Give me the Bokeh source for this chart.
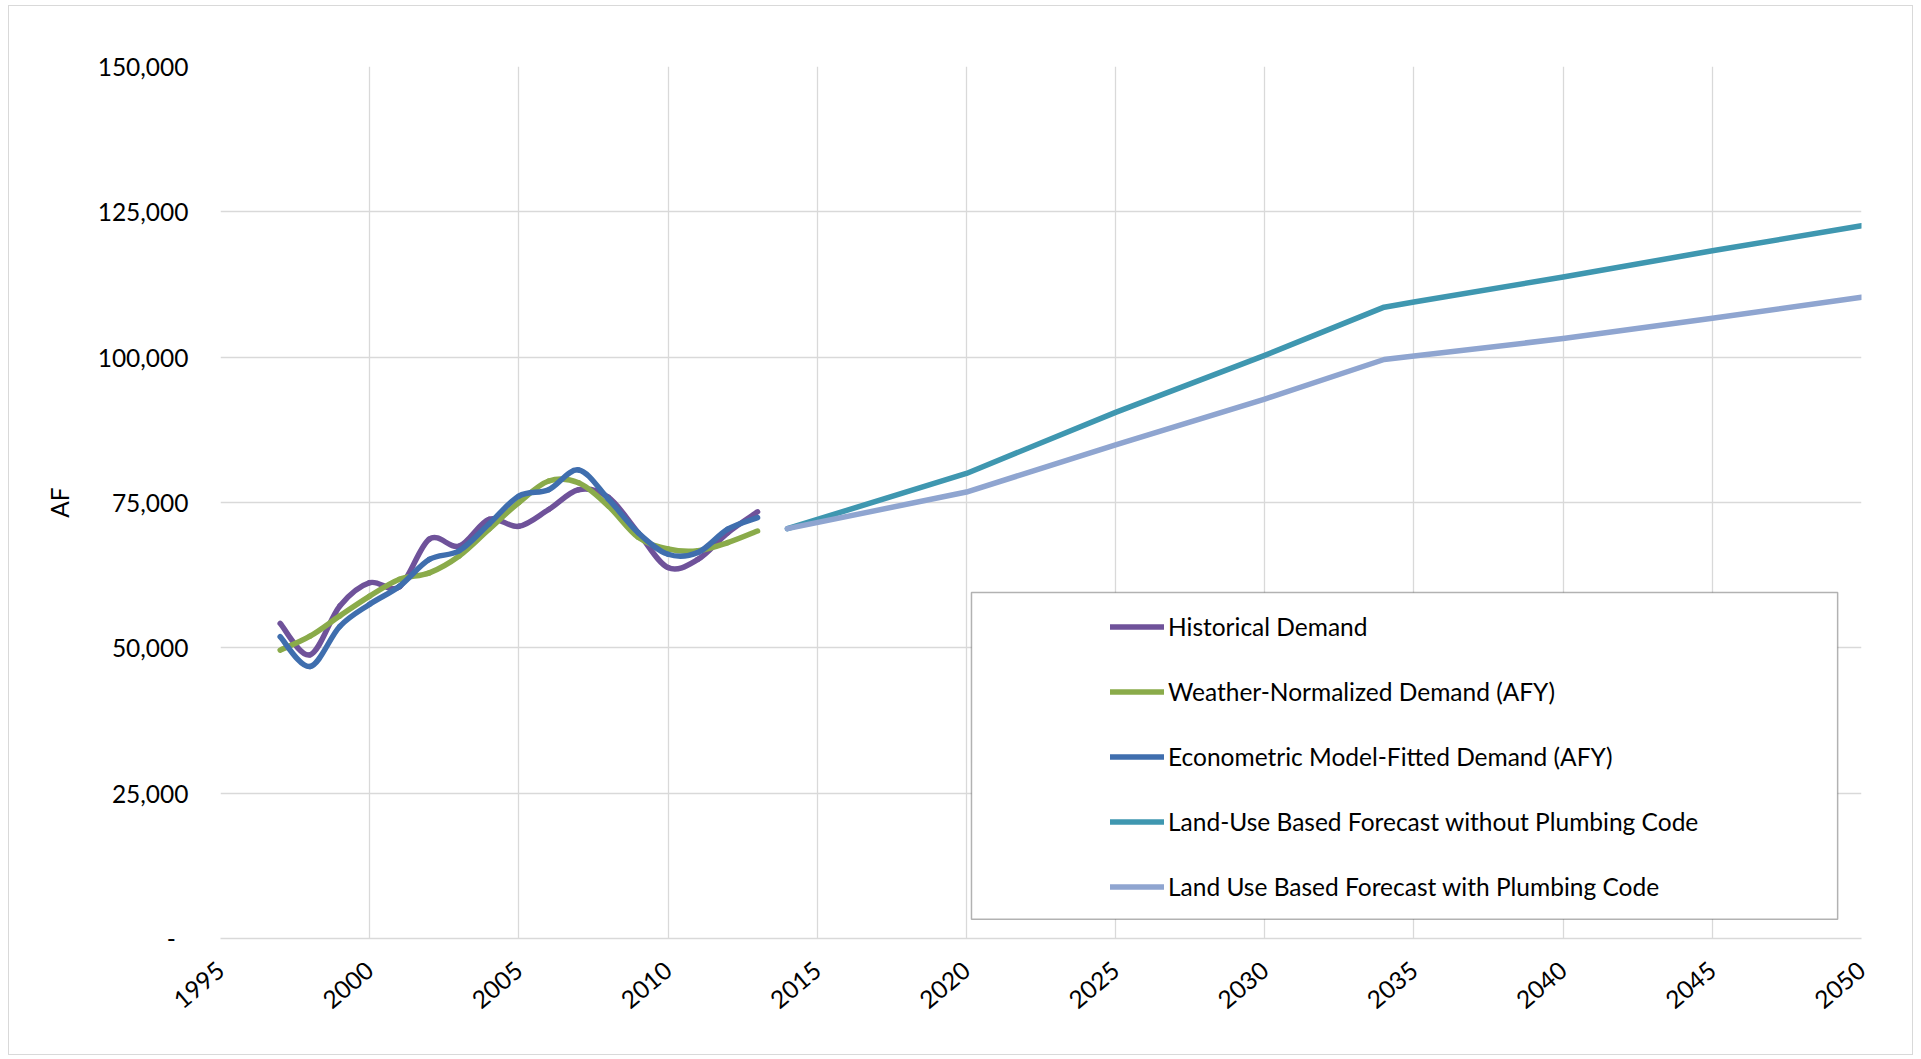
import numpy as np
from bokeh.plotting import figure
from bokeh.models import FixedTicker, Legend, LegendItem, BoxAnnotation
from bokeh.embed import file_html
from bokeh.resources import INLINE

# --- data (acre-feet per year) ---
hist_years = list(range(1997, 2014))
historical = [54200, 48800, 57200, 61200, 60500, 68700, 67500, 72100, 70900,
              73800, 77200, 75900, 69800, 63800, 65200, 69800, 73400]
weather_normalized = [49600, 52000, 55500, 58900, 61800, 62900, 65800, 70400, 75000,
                      78700, 78400, 74400, 69000, 67000, 66700, 68100, 70100]
econometric = [51900, 46800, 53700, 57500, 60600, 65200, 66700, 71300, 76100,
               77200, 80600, 75600, 69800, 66100, 66400, 70400, 72400]

forecast_years = [2014, 2020, 2025, 2030, 2034, 2035, 2040, 2045, 2050]
without_plumbing = [70500, 80000, 90500, 100300, 108600, 109500, 113800, 118300, 122600]
with_plumbing = [70500, 76800, 84900, 92800, 99600, 100200, 103200, 106700, 110300]

x_ticks = list(range(1995, 2051, 5))
y_ticks = [0, 25000, 50000, 75000, 100000, 125000, 150000]
y_tick_labels = ["-\u00a0\u00a0", "25,000", "50,000", "75,000", "100,000", "125,000", "150,000"]

names = ["Historical Demand",
         "Weather-Normalized Demand (AFY)",
         "Econometric Model-Fitted Demand (AFY)",
         "Land-Use Based Forecast without Plumbing Code",
         "Land Use Based Forecast with Plumbing Code"]
colors = ["#6F529A", "#8AAB4A", "#3F6EAE", "#3F97B0", "#8FA5D0"]

FONT = "Lato"
FONT_SIZE = "24.5px"


def smooth(xs, ys):
    # Excel-style smoothed line: cubic bezier per segment (Catmull-Rom control points)
    x = np.asarray(xs, dtype=float)
    y = np.asarray(ys, dtype=float)
    n = len(x)
    seg = dict(x0=[], y0=[], x1=[], y1=[], cx0=[], cy0=[], cx1=[], cy1=[])
    for i in range(n - 1):
        a = max(i - 1, 0)
        b = min(i + 2, n - 1)
        seg["x0"].append(x[i])
        seg["y0"].append(y[i])
        seg["x1"].append(x[i + 1])
        seg["y1"].append(y[i + 1])
        seg["cx0"].append(x[i] + (x[i + 1] - x[a]) / 6)
        seg["cy0"].append(y[i] + (y[i + 1] - y[a]) / 6)
        seg["cx1"].append(x[i + 1] - (x[b] - x[i]) / 6)
        seg["cy1"].append(y[i + 1] - (y[b] - y[i]) / 6)
    return seg


p = figure(width=1905, height=1050,
           x_range=(1995, 2050), y_range=(0, 150000),
           output_backend="svg", toolbar_location=None,
           min_border_left=211, min_border_right=53,
           min_border_top=60, min_border_bottom=118)
p.styles = {"margin-left": "8px", "margin-top": "5px", "border": "1px solid #d9d9d9"}
p.outline_line_color = None
p.background_fill_color = "white"

p.xgrid.grid_line_color = "#d9d9d9"
p.ygrid.grid_line_color = "#d9d9d9"
p.xgrid.grid_line_width = 1.3
p.ygrid.grid_line_width = 1.3

p.xaxis.ticker = FixedTicker(ticks=x_ticks)
p.yaxis.ticker = FixedTicker(ticks=y_ticks)
p.yaxis.major_label_overrides = dict(zip(y_ticks, y_tick_labels))
p.xaxis.major_label_orientation = 0.7

for ax in (p.xaxis, p.yaxis):
    ax.major_tick_line_color = None
    ax.minor_tick_line_color = None
    ax.major_label_text_font = FONT
    ax.major_label_text_font_size = FONT_SIZE
    ax.major_label_text_color = "#000000"
p.xaxis.axis_line_color = "#d9d9d9"
p.xaxis.axis_line_width = 1.3
p.yaxis.axis_line_color = None
p.xaxis.major_label_standoff = 22
p.yaxis.major_label_standoff = 26

p.yaxis.axis_label = "AF"
p.yaxis.axis_label_text_font = FONT
p.yaxis.axis_label_text_font_size = FONT_SIZE
p.yaxis.axis_label_text_font_style = "normal"
p.yaxis.axis_label_text_color = "#000000"
p.yaxis.axis_label_standoff = 21

renderers = []
for ys, c in zip([historical, weather_normalized, econometric], colors[:3]):
    r = p.bezier(**smooth(hist_years, ys), line_color=c, line_width=5.5,
                 line_cap="round")
    renderers.append(r)

for ys, c in zip([without_plumbing, with_plumbing], colors[3:]):
    r = p.line(forecast_years, ys, line_color=c, line_width=5.5,
               line_cap="round", line_join="round")
    renderers.append(r)

# legend frame
box = BoxAnnotation(left=2020.17, right=2049.2, bottom=3300, top=59500,
                    fill_color="white", fill_alpha=1.0,
                    line_color="#000000", line_width=1.5)
p.add_layout(box)

legend = Legend(items=[LegendItem(label=n, renderers=[r]) for n, r in zip(names, renderers)],
                location=(890, 19), padding=0, spacing=0,
                glyph_width=54, glyph_height=65, label_height=65, label_standoff=4,
                label_text_font=FONT, label_text_font_size=FONT_SIZE,
                label_text_color="#000000",
                border_line_alpha=0, background_fill_alpha=0)
p.add_layout(legend)

open("out.html", "w").write(file_html(p, INLINE))
